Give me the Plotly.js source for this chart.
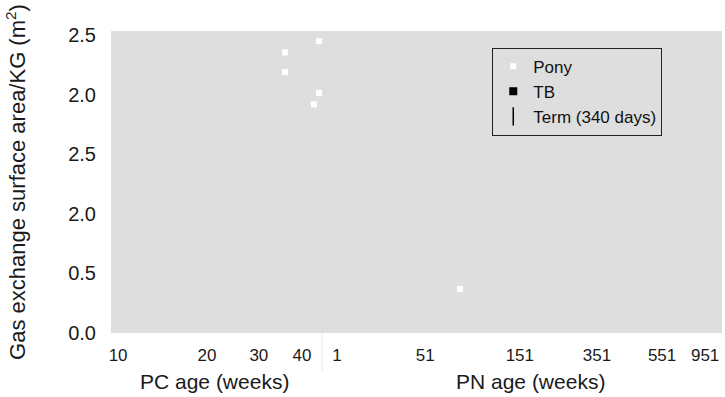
<!DOCTYPE html>
<html>
<head>
<meta charset="utf-8">
<script src="https://cdn.plot.ly/plotly-3.0.1.min.js"></script>
<style>html,body{margin:0;padding:0;background:#fff;}#chart{width:725px;height:397px;}</style>
</head>
<body>
<div id="chart"></div>
<script>
// x positions on a log age scale (weeks); tick labels as printed in the original
const xTickVals = [10, 20, 30, 42, 55.2, 110, 230, 420, 698, 977];
const xTickText = ['10', '20', '30', '40', '1', '51', '151', '351', '551', '951'];
const yTickVals = [0, 1, 2, 3, 4, 5];
const yTickText = ['0.0', '0.5', '2.0', '2.5', '2.0', '2.5'];

const ponyX = [48.0, 36.8, 36.8, 48.0, 46.1, 144.2];
const ponyY = [4.90, 4.71, 4.38, 4.03, 3.84, 0.74];
const tbX = [null];
const tbY = [null];
const termX = [null];
const termY = [null];

const FONT = '"Liberation Sans", Arial, Helvetica, sans-serif';

const traces = [
  {
    type: 'scatter', mode: 'markers', name: 'Pony',
    x: ponyX, y: ponyY,
    marker: {symbol: 'square', size: 6, color: '#ffffff', line: {width: 0}},
    cliponaxis: false
  },
  {
    type: 'scatter', mode: 'markers', name: 'TB',
    x: tbX, y: tbY,
    marker: {symbol: 'square', size: 8, color: '#000000', line: {width: 0}}
  },
  {
    type: 'scatter', mode: 'markers', name: 'Term (340 days)',
    x: termX, y: termY,
    marker: {symbol: 'line-ns-open', size: 13, color: '#000000', line: {width: 1.5, color: '#000000'}}
  }
];

const layout = {
  width: 725, height: 397,
  margin: {l: 111, r: 3, t: 31, b: 64, pad: 0},
  paper_bgcolor: '#ffffff',
  plot_bgcolor: '#dedede',
  font: {family: FONT, size: 17, color: '#1a1a1a'},
  showlegend: true,
  legend: {
    x: 0.624, y: 0.945, xanchor: 'left', yanchor: 'top',
    bgcolor: 'rgba(0,0,0,0)', bordercolor: '#222222', borderwidth: 1,
    font: {family: FONT, size: 17, color: '#111111'},
    itemwidth: 30, tracegroupgap: 0
  },
  xaxis: {
    type: 'log', range: [0.976, 3.047],
    tickmode: 'array', tickvals: xTickVals, ticktext: xTickText,
    showgrid: false, zeroline: false, showline: false,
    ticks: '', ticklabelstandoff: 10,
    tickfont: {family: FONT, size: 17, color: '#1a1a1a'},
    fixedrange: true
  },
  yaxis: {
    range: [0, 5.07],
    tickmode: 'array', tickvals: yTickVals, ticktext: yTickText,
    showgrid: false, zeroline: false, showline: false,
    ticks: '', ticklabelstandoff: 14,
    tickfont: {family: FONT, size: 20, color: '#1a1a1a'},
    title: {text: 'Gas exchange surface area/KG (m<sup>2</sup>)', font: {family: FONT, size: 22, color: '#1a1a1a'}, standoff: 36},
    fixedrange: true
  },
  annotations: [
    {text: 'PC age (weeks)', xref: 'paper', yref: 'paper', x: 0.170, y: -0.162, xanchor: 'center', yanchor: 'middle', showarrow: false, font: {family: FONT, size: 21, color: '#1a1a1a'}},
    {text: 'PN age (weeks)', xref: 'paper', yref: 'paper', x: 0.686, y: -0.162, xanchor: 'center', yanchor: 'middle', showarrow: false, font: {family: FONT, size: 21, color: '#1a1a1a'}}
  ],
  shapes: [
    {type: 'line', xref: 'x', yref: 'paper', x0: 49.2, x1: 49.2, y0: 0, y1: -0.13, line: {color: '#ececec', width: 1}}
  ]
};

Plotly.newPlot('chart', traces, layout, {displayModeBar: false, staticPlot: true});
</script>
</body>
</html>
